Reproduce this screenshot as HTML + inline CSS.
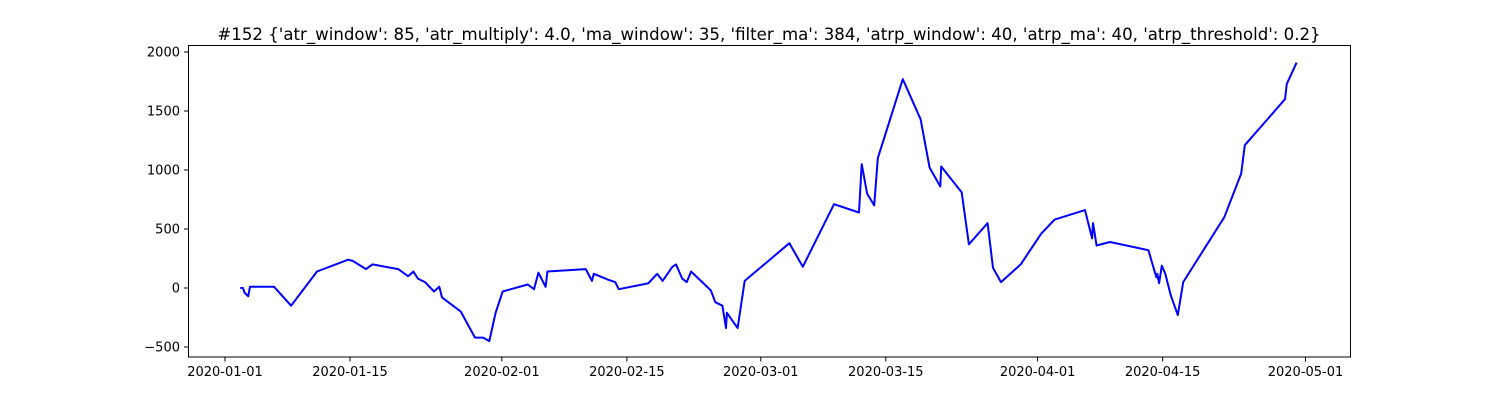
<!DOCTYPE html>
<html><head><meta charset="utf-8"><style>
body{margin:0;background:#fff;}
svg{display:block;font-family:"DejaVu Sans","Liberation Sans",sans-serif;}
</style></head><body>
<svg id="chart" width="1500" height="400">
<text x="769" y="40" font-size="16.6" text-anchor="middle">#152 {'atr_window': 85, 'atr_multiply': 4.0, 'ma_window': 35, 'filter_ma': 384, 'atrp_window': 40, 'atrp_ma': 40, 'atrp_threshold': 0.2}</text>
<rect x="188.5" y="45.5" width="1162" height="311.5" fill="none" stroke="#000" stroke-width="1"/>
<g id="xt"></g>
<g id="yt"></g>
<path id="line" fill="none" stroke="#0000ff" stroke-width="2" stroke-linejoin="round"/>
</svg>
<script>
const days=[1.7,2.0,2.2,2.6,2.8,5.5,7.4,10.3,13.8,14.3,15.8,16.5,19.4,20.5,21.1,21.6,22.4,23.4,24.0,24.3,26.4,28.0,28.9,29.6,30.3,31.1,33.9,34.6,35.1,35.9,36.1,40.4,41.1,41.3,42.9,43.7,44.1,47.4,48.4,49.0,50.1,50.5,51.2,51.7,52.2,54.4,54.9,55.7,56.1,56.2,57.4,58.2,63.2,64.7,68.2,71.0,71.3,71.9,72.7,73.1,75.9,77.9,78.9,80.1,80.2,82.5,83.3,85.4,86.0,86.9,89.1,91.4,92.9,96.3,97.1,97.2,97.6,99.1,103.4,104.3,104.4,104.6,104.9,105.3,105.9,106.7,107.3,111.9,113.8,114.2,118.7,118.9,120.0];
const values=[0,0,-40,-70,10,10,-150,140,240,230,160,200,160,100,140,80,50,-30,10,-80,-200,-420,-420,-450,-210,-30,30,-10,130,10,140,160,60,120,70,50,-10,40,120,60,180,200,80,50,140,-20,-120,-150,-340,-210,-340,60,380,180,710,640,1050,800,700,1100,1770,1430,1020,860,1030,810,370,550,170,50,200,460,580,660,420,550,360,390,320,90,120,40,190,120,-60,-230,50,600,970,1210,1600,1730,1910];
const xTickDays=[0,14,31,45,60,74,91,105,121];
const xTickLabels=["2020-01-01","2020-01-15","2020-02-01","2020-02-15","2020-03-01","2020-03-15","2020-04-01","2020-04-15","2020-05-01"];
const yTicks=[-500,0,500,1000,1500,2000];
const X=d=>225+d*8.93;
const Y=v=>288-v*0.118;
const ns="http://www.w3.org/2000/svg";
const xt=document.getElementById('xt'),yt=document.getElementById('yt');
xTickDays.forEach((d,i)=>{
  const l=document.createElementNS(ns,'line');
  l.setAttribute('x1',X(d));l.setAttribute('x2',X(d));l.setAttribute('y1',357);l.setAttribute('y2',361.5);l.setAttribute('stroke','#000');
  
  
  xt.appendChild(l);
  const t=document.createElementNS(ns,'text');
  t.setAttribute('x',X(d));t.setAttribute('y',376);t.setAttribute('font-size','13');t.setAttribute('text-anchor','middle');
  t.textContent=xTickLabels[i];
  
  
  xt.appendChild(t);
});
yTicks.forEach(v=>{
  const l=document.createElementNS(ns,'line');
  l.setAttribute('x1',184);l.setAttribute('x2',188.5);l.setAttribute('y1',Y(v));l.setAttribute('y2',Y(v));l.setAttribute('stroke','#000');
  
  
  yt.appendChild(l);
  const t=document.createElementNS(ns,'text');
  t.setAttribute('x',180);t.setAttribute('y',Y(v)+4.5);t.setAttribute('font-size','13');t.setAttribute('text-anchor','end');
  t.textContent=v<0?'\u2212'+Math.abs(v):String(v);
  
  
  yt.appendChild(t);
});
document.getElementById('line').setAttribute('d',days.map((d,i)=>(i?'L':'M')+X(d).toFixed(1)+','+Y(values[i]).toFixed(1)).join(''));
</script>
</body></html>
